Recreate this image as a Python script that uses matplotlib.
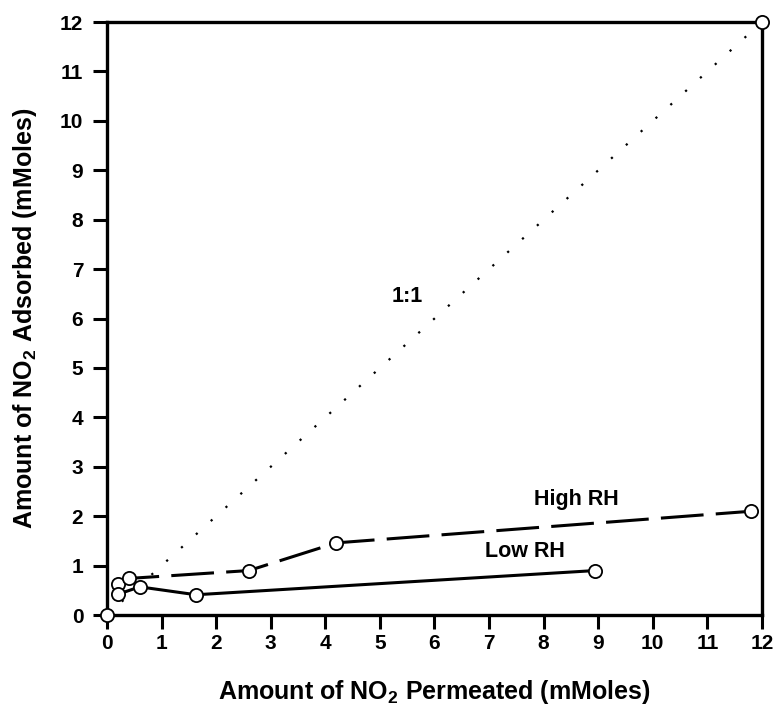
import matplotlib
matplotlib.use("Agg")
import matplotlib.pyplot as plt

plt.rcParams['font.family'] = ['Liberation Sans', 'DejaVu Sans']
plt.rcParams['font.weight'] = 'bold'
plt.rcParams['mathtext.fontset'] = 'custom'
plt.rcParams['mathtext.rm'] = 'Liberation Sans:bold'
plt.rcParams['mathtext.it'] = 'Liberation Sans:bold'
plt.rcParams['mathtext.bf'] = 'Liberation Sans:bold'

# Data
one_x = [0, 12]
one_y = [0, 12]
high_x = [0.2, 0.4, 2.6, 4.2, 11.8]
high_y = [0.62, 0.74, 0.9, 1.46, 2.1]
low_x = [0.2, 0.6, 1.63, 8.95]
low_y = [0.42, 0.57, 0.41, 0.9]
ticks = list(range(0, 13))

fig = plt.figure(figsize=(7.78, 7.11), dpi=100)
ax = fig.add_axes([0.1375, 0.135, 0.8419, 0.834])

mk = dict(marker='o', ms=9.5, mfc='white', mec='black', mew=1.3, clip_on=False)
ax.plot(one_x, one_y, color='black', lw=1.6, linestyle=(0, (1, 8)), zorder=3, **mk)
ax.plot(high_x, high_y, color='black', lw=2.2, linestyle=(0, (14, 4)), zorder=4, **mk)
ax.plot(low_x, low_y, color='black', lw=2.2, linestyle='-', zorder=4, **mk)

ax.text(5.51, 6.45, '1:1', ha='center', va='center', fontsize=15.5, fontweight='bold')
ax.text(8.6, 2.33, 'High RH', ha='center', va='center', fontsize=15.5, fontweight='bold')
ax.text(7.65, 1.28, 'Low RH', ha='center', va='center', fontsize=15.5, fontweight='bold')

ax.set_xlim(0, 12)
ax.set_ylim(0, 12)
ax.set_xticks(ticks)
ax.set_yticks(ticks)
ax.tick_params(direction='out', length=10, width=2.2, labelsize=15)
ax.tick_params(axis='x', pad=4)
ax.tick_params(axis='y', pad=7)
for lab in ax.get_xticklabels() + ax.get_yticklabels():
    lab.set_fontweight('bold')
for sp in ax.spines.values():
    sp.set_linewidth(2.4)

ax.set_xlabel(r'Amount of NO$_{\mathrm{2}}$ Permeated (mMoles)', fontsize=18, fontweight='bold', labelpad=18)
ax.set_ylabel(r'Amount of NO$_{\mathrm{2}}$ Adsorbed (mMoles)', fontsize=18, fontweight='bold', labelpad=15)

fig.savefig('out.png', dpi=100)
